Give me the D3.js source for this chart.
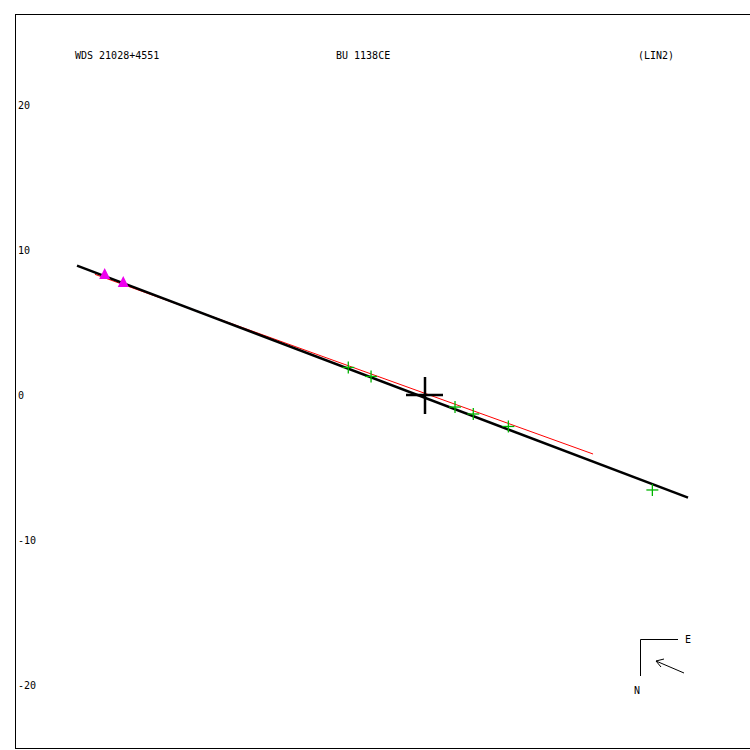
<!DOCTYPE html>
<html><head><meta charset="utf-8">
<script src="https://cdn.jsdelivr.net/npm/d3@7"></script>
<style>html,body{margin:0;padding:0;background:#fff;}svg{display:block;}</style>
</head><body>
<script>
// ---- data (plot units, arcsec; y positive up) ----
const titles = ["WDS 21028+4551", "BU 1138CE", "(LIN2)"];
const yTicks = [20, 10, 0, -10, -20];
const fitLine = [[-24.0, 8.92], [18.14, -7.08]];
const altLine = [[-22.76, 8.32], [11.59, -4.07]];
const triangles = [[-22.09, 8.28], [-20.81, 7.72]];
const crosses = [[-5.29, 1.90], [-3.72, 1.28], [2.07, -0.83], [3.33, -1.31], [5.75, -2.17], [15.68, -6.55]];
const origin = [0, 0];

const W = 750, H = 750;
const svg = d3.select("body").append("svg").attr("width", W).attr("height", H);

// scales: 14.5 px per unit
const x = d3.scaleLinear().domain([0, 10]).range([425, 570]);
const y = d3.scaleLinear().domain([0, 10]).range([395, 250]);

const font = "'DejaVu Sans Mono', monospace";

// frame
svg.append("rect").attr("x", 15.5).attr("y", 14.5).attr("width", 745).attr("height", 734)
  .attr("fill", "none").attr("stroke", "#000").attr("stroke-width", 1);

// titles
const titleX = [75, 336, 638];
svg.selectAll("text.title").data(titles).join("text").attr("class", "title")
  .attr("x", (d, i) => titleX[i]).attr("y", 59)
  .attr("font-family", font).attr("font-size", 10).attr("fill", "#000")
  .text(d => d);

// y tick labels
svg.selectAll("text.tick").data(yTicks).join("text").attr("class", "tick")
  .attr("x", 18).attr("y", d => y(d) + 4)
  .attr("font-family", font).attr("font-size", 10).attr("fill", "#000")
  .text(d => d < 0 ? "-" + Math.abs(d) : d);

const line = d3.line().x(d => x(d[0])).y(d => y(d[1]));

// red line
svg.append("path").attr("d", line(altLine)).attr("stroke", "#ff0000").attr("stroke-width", 1).attr("fill", "none");
// black fitted line
svg.append("path").attr("d", line(fitLine)).attr("stroke", "#000").attr("stroke-width", 2.5).attr("fill", "none");

// green crosses
const g = svg.append("g").attr("stroke", "#00b400").attr("stroke-width", 1.3);
crosses.forEach(c => {
  const cx = x(c[0]), cy = y(c[1]);
  g.append("line").attr("x1", cx - 6).attr("x2", cx + 6).attr("y1", cy).attr("y2", cy);
  g.append("line").attr("x1", cx).attr("x2", cx).attr("y1", cy - 6).attr("y2", cy + 6);
});

// magenta triangles
svg.selectAll("path.tri").data(triangles).join("path").attr("class", "tri")
  .attr("transform", d => `translate(${x(d[0])},${y(d[1])})`)
  .attr("d", "M0,-7L5.5,4L-5.5,4Z").attr("fill", "#ee00ee");

// big origin cross
const ox = x(origin[0]), oy = y(origin[1]);
svg.append("line").attr("x1", ox - 19).attr("x2", ox + 18).attr("y1", oy).attr("y2", oy).attr("stroke", "#000").attr("stroke-width", 2.5);
svg.append("line").attr("x1", ox).attr("x2", ox).attr("y1", oy - 18).attr("y2", oy + 19).attr("stroke", "#000").attr("stroke-width", 2.5);

// compass
const comp = svg.append("g").attr("stroke", "#000").attr("stroke-width", 1).attr("fill", "none");
comp.append("path").attr("d", "M678,639.5H640.5V676");
comp.append("path").attr("d", "M684,673L656,661M656,661L664,659M656,661L661,667");
svg.append("text").attr("x", 685).attr("y", 643).attr("font-family", font).attr("font-size", 10).text("E");
svg.append("text").attr("x", 634).attr("y", 694).attr("font-family", font).attr("font-size", 10).text("N");
</script>
</body></html>
